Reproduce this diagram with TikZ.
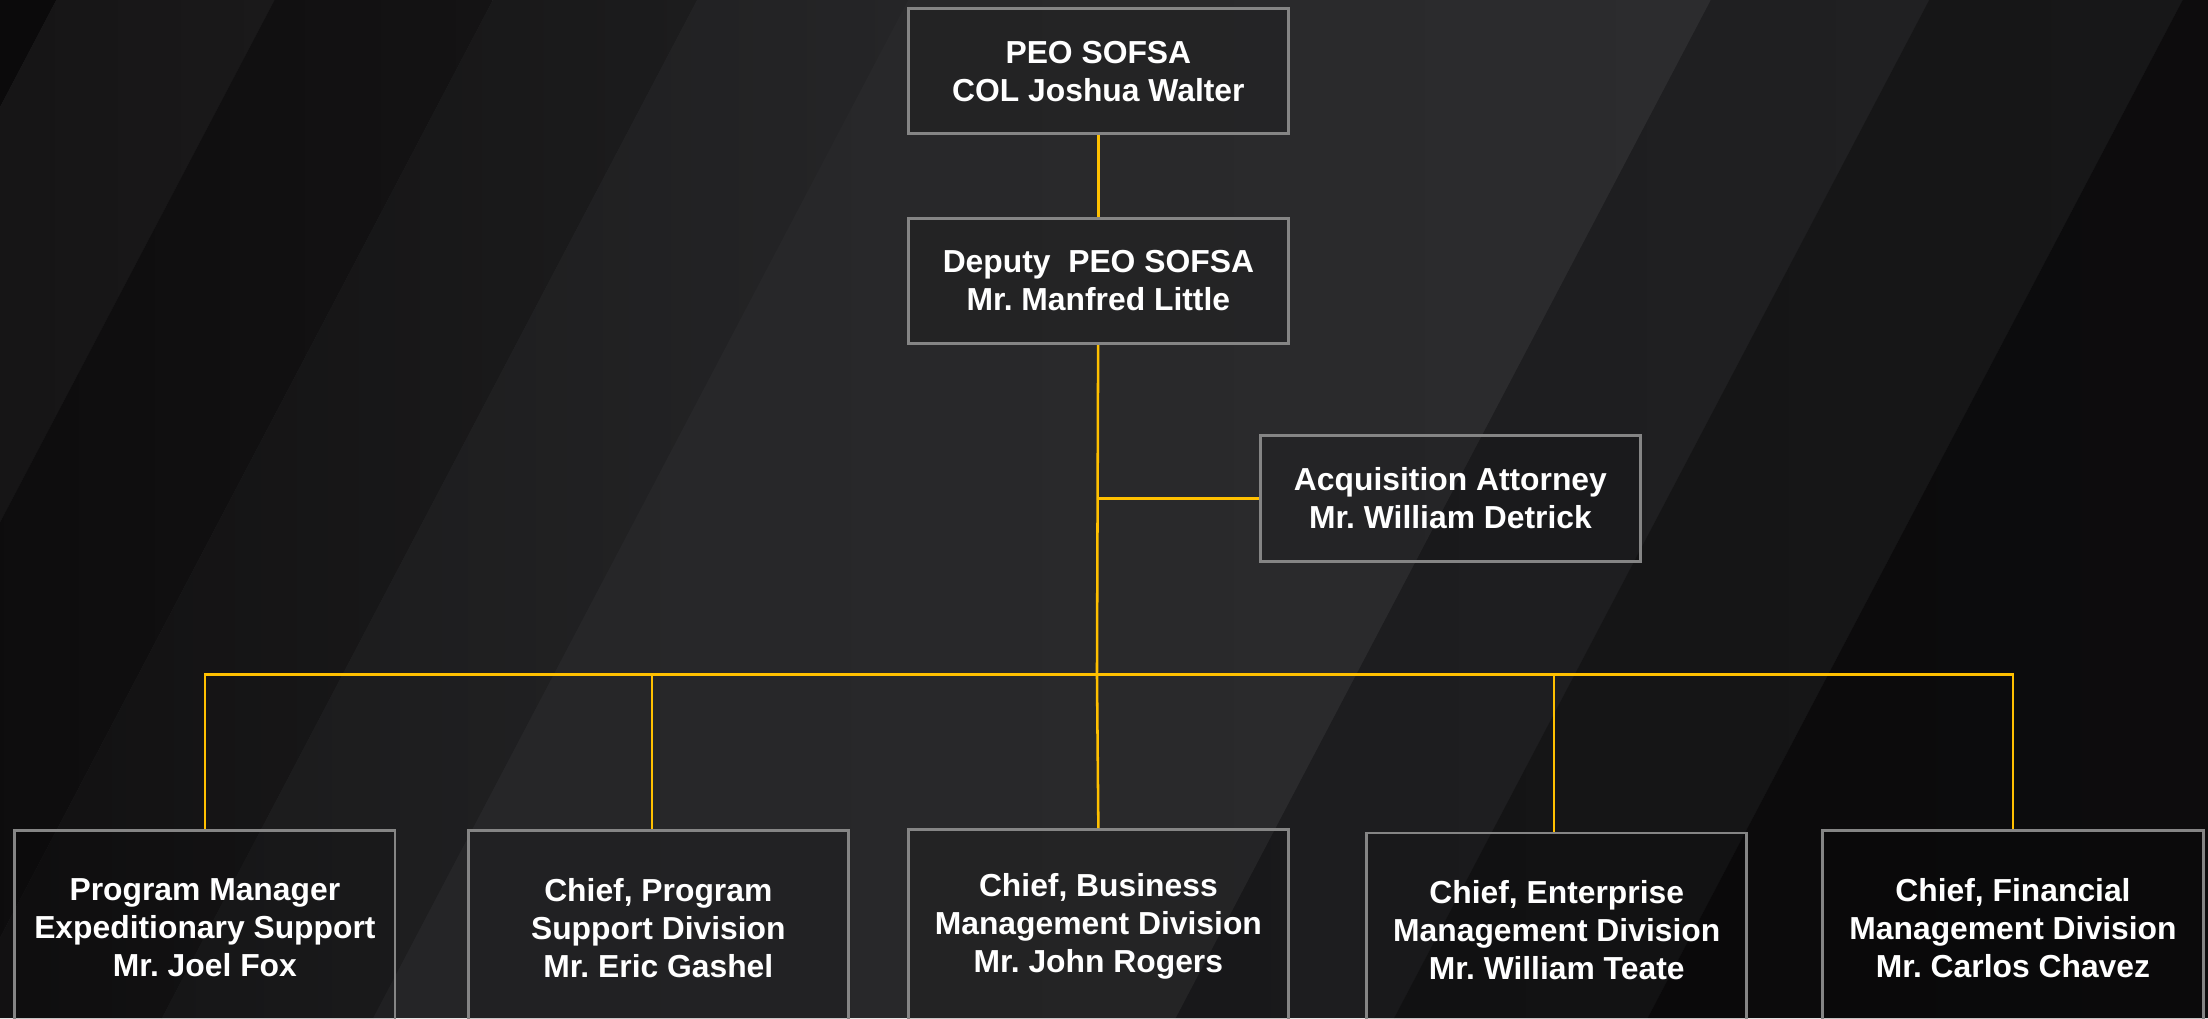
\documentclass[tikz,border=0pt]{standalone}
\usepackage{fontspec}
\setmainfont{Liberation Sans}
\usepackage{xcolor}
\frenchspacing
\definecolor{chartgold}{HTML}{FFC000}
\definecolor{boxline}{HTML}{858585}
\definecolor{bgbase}{HTML}{262628}
\tikzset{%
  post/.style={draw=boxline, line width=1pt, fill=black, fill opacity=0.12, text opacity=1,
    text=white, font=\bfseries\fontsize{11.3}{13.5}\selectfont, align=center,
    minimum width=135pt, minimum height=44.5pt, inner sep=0pt},
  division/.style={post, minimum height=69pt},
  link/.style={chartgold, line width=0.9pt}
}

\begin{document}
\begin{tikzpicture}[x=0.5pt,y=-0.5pt]
\useasboundingbox (0,0) rectangle (1568,723);
\clip (0,0) rectangle (1568,723);
\fill[bgbase] (0,0) rectangle (1568,723);
% diagonal bands of the backdrop
\foreach \xa/\xb/\ca/\cb in {-700/40/080708/0b0a0b, 40/195/0e0d0e/1a191a, 195/350/0a090a/141314,
    350/495/111011/1c1c1d, 495/645/1a1a1b/252527, 645/1215/252527/2c2c2e,
    1215/1370/1c1c1e/202022, 1370/1550/141415/171718, 1550/2400/0c0b0c/0e0e0f}{
  \definecolor{bandl}{HTML}{\ca}
  \definecolor{bandr}{HTML}{\cb}
  \shade[left color=bandl, right color=bandr] (\xa,0) -- (\xb,0) -- (\xb-380,723) -- (\xa-380,723) -- cycle;
}

\node[post] (peo) at (780,50.5) {PEO SOFSA\\COL Joshua Walter};
\node[post] (deputy) at (780,199.5) {Deputy\ \ PEO SOFSA\\Mr. Manfred Little};
\node[post] (attorney) at (1030,354) {Acquisition Attorney\\Mr. William Detrick};
\node[division] (pm) at (145.5,659) {Program Manager\\Expeditionary Support\\Mr. Joel Fox};
\node[division] (chiefps) at (467.5,659) {Chief, Program\\Support Division\\Mr. Eric Gashel};
\node[division] (chiefbm) at (780,658) {Chief, Business\\Management Division\\Mr. John Rogers};
\node[division] (chiefem) at (1105.5,660.5) {Chief, Enterprise\\Management Division\\Mr. William Teate};
\node[division] (chieffm) at (1429.5,659) {Chief, Financial\\Management Division\\Mr. Carlos Chavez};
\coordinate (bus) at (779,479);

\draw[link] (peo) -- (deputy);
\draw[link] (deputy) -- (bus);
\draw[link] (attorney.west) -- (attorney.west -| bus);
\draw[link] (bus) -| (pm.north);
\draw[link] (bus) -| ([xshift=-2.25pt]chiefps.north);
\draw[link] (bus) -- (chiefbm.north);
\draw[link] (bus) -| ([xshift=-1pt]chiefem.north);
\draw[link] (bus) -| (chieffm.north);
\end{tikzpicture}
\end{document}
